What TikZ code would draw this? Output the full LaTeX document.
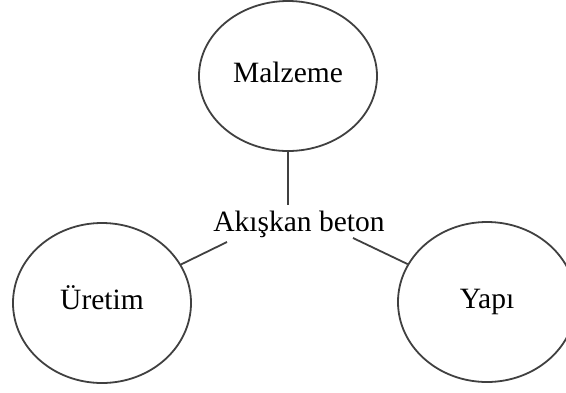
\documentclass[tikz,border=0pt]{standalone}
\usepackage{fontspec}
\setmainfont{Liberation Serif}
\usetikzlibrary{shapes.geometric}
\tikzset{
  bubble/.style={ellipse, draw=black!75, line width=1.8pt, inner sep=0pt,
    text height=19pt, text depth=7pt,
    font=\fontsize{29.5}{33}\selectfont},
  label/.style={inner sep=0pt, font=\fontsize{29.5}{33}\selectfont},
  link/.style={draw=black!75, line width=1.8pt}
}
\begin{document}
\begin{tikzpicture}[x=1pt,y=-1pt]
\useasboundingbox (0,0) rectangle (566,392);
\node[bubble, minimum width=178pt, minimum height=150pt] (m) at (288,76) {Malzeme};
\node[bubble, minimum width=178pt, minimum height=160pt] (u) at (102,303) {Üretim};
\node[bubble, minimum width=178pt, minimum height=160pt] (y) at (487,302) {Yapı};
\node[label] (c) at (299,224) {Akışkan beton};
\coordinate (c1) at (288,205);
\coordinate (c2) at (227,242);
\coordinate (c3) at (353,238);
\draw[link] (m) -- (c1);
\draw[link] (u) -- (c2);
\draw[link] (y) -- (c3);
\end{tikzpicture}
\end{document}
